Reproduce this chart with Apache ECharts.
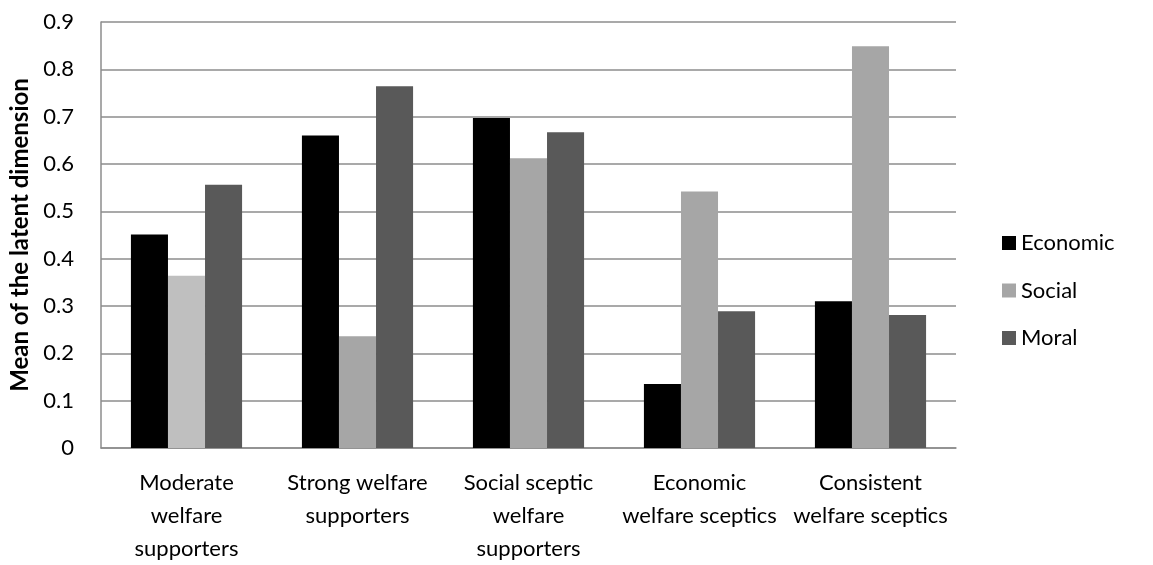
<!DOCTYPE html>
<html>
<head>
<meta charset="utf-8">
<script src="https://cdn.jsdelivr.net/npm/echarts@6/dist/echarts.min.js"></script>
<style>
html,body{margin:0;padding:0;background:#fff;}
#chart{width:1153px;height:565px;}
</style>
</head>
<body>
<div id="chart"></div>
<script>
var categories = ['Moderate\nwelfare\nsupporters', 'Strong welfare\nsupporters', 'Social sceptic\nwelfare\nsupporters', 'Economic\nwelfare sceptics', 'Consistent\nwelfare sceptics'];
var economic = [0.451, 0.660, 0.697, 0.135, 0.310];
var social = [0.364, 0.236, 0.612, 0.542, 0.849];
var moral = [0.556, 0.764, 0.667, 0.289, 0.281];
var yTicks = [0, 0.1, 0.2, 0.3, 0.4, 0.5, 0.6, 0.7, 0.8, 0.9];

var FONT = 'Lato';
var chart = echarts.init(document.getElementById('chart'));
var socialData = social.map(function (v, i) {
  return i === 0 ? { value: v, itemStyle: { color: '#bfbfbf' } } : v;
});
chart.setOption({
  animation: false,
  textStyle: { fontFamily: FONT },
  grid: { left: 101, right: 197, top: 22, bottom: 113 },
  legend: {
    orient: 'vertical',
    left: 997,
    top: 227,
    itemWidth: 14,
    itemHeight: 14,
    itemGap: 25.5,
    icon: 'rect',
    textStyle: { fontFamily: FONT, fontSize: 22, color: '#000' },
    data: ['Economic', 'Social', 'Moral']
  },
  xAxis: {
    type: 'category',
    data: categories,
    axisLine: { lineStyle: { color: '#8c8c8c', width: 1.5 } },
    axisTick: { show: false },
    axisLabel: { color: '#000', fontSize: 22, lineHeight: 33, margin: 18, interval: 0, fontFamily: FONT }
  },
  yAxis: {
    type: 'value',
    min: 0, max: 0.9, interval: 0.1,
    name: 'Mean of the latent dimension',
    nameLocation: 'middle',
    nameGap: 62,
    nameTextStyle: { color: '#000', fontSize: 24, fontWeight: 'bold', fontFamily: FONT },
    axisLine: { show: true, lineStyle: { color: '#8c8c8c', width: 1.5 } },
    axisTick: { show: false },
    splitLine: { lineStyle: { color: '#8c8c8c', width: 1.5 } },
    axisLabel: {
      color: '#000', fontSize: 22, margin: 27, fontFamily: FONT,
      formatter: function (v) {
        var t = yTicks.filter(function (x) { return Math.abs(x - v) < 1e-9; })[0];
        return t === undefined ? '' : String(t);
      }
    }
  },
  series: [
    { name: 'Economic', type: 'bar', data: economic, itemStyle: { color: '#000000' }, barGap: '0%', barCategoryGap: '35%' },
    { name: 'Social', type: 'bar', data: socialData, itemStyle: { color: '#a6a6a6' } },
    { name: 'Moral', type: 'bar', data: moral, itemStyle: { color: '#595959' } }
  ]
});
</script>
</body>
</html>
